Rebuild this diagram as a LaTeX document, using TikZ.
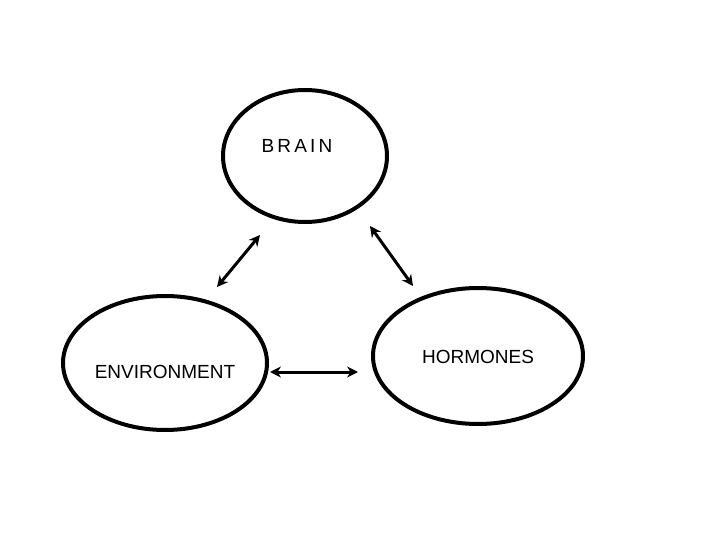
\documentclass[tikz,border=0pt]{standalone}
\usepackage{fontspec}
\setmainfont{Liberation Sans}
\usetikzlibrary{arrows.meta}
\begin{document}
\begin{tikzpicture}[x=1pt,y=-1pt,
  oval/.style={draw,line width=4pt,ellipse,inner sep=0pt},
  lbl/.style={font=\fontsize{19}{22}\selectfont},
  link/.style={line width=3pt,{Stealth[length=11pt,width=11pt]}-{Stealth[length=11pt,width=11pt]}}]
\useasboundingbox (0,0) rectangle (720,540);
\draw[line width=4pt] (305,156) ellipse (82 and 66);
\draw[line width=4pt] (165,363) ellipse (102 and 67);
\draw[line width=4pt] (478,356) ellipse (105 and 68);
\node[lbl] (brain) at (297,146) {B\,R\,A\,I\,N};
\node[lbl] (env) at (165,372) {ENVIRONMENT};
\node[lbl] (horm) at (478,357) {HORMONES};
\coordinate (a1) at (260,235); \coordinate (a2) at (217,287);
\coordinate (b1) at (370,226); \coordinate (b2) at (413,286);
\coordinate (c1) at (270,372); \coordinate (c2) at (358,372);
\draw[link] (a1) -- (a2);
\draw[link] (b1) -- (b2);
\draw[link] (c1) -- (c2);
\end{tikzpicture}
\end{document}
